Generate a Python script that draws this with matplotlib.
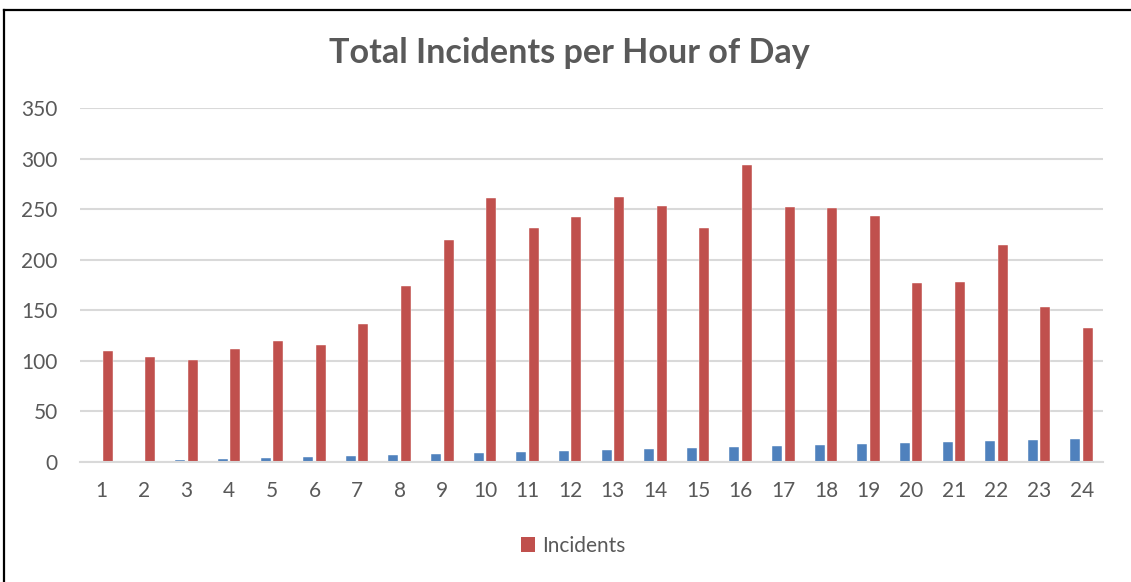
import matplotlib
matplotlib.use("Agg")
import matplotlib.pyplot as plt
from matplotlib.lines import Line2D
from matplotlib.patches import Patch

# Dados
horas = list(range(1, 25))
indice_hora = [0, 1, 2, 3, 4, 5, 6, 7, 8, 9, 10, 11,
               12, 13, 14, 15, 16, 17, 18, 19, 20, 21, 22, 23]
incidentes = [110, 104, 101, 112, 120, 116, 136, 174, 219, 261, 231, 242,
              262, 253, 231, 294, 252, 251, 243, 177, 178, 215, 153, 132]
y_ticks = [0, 50, 100, 150, 200, 250, 300, 350]

AZUL = "#4F81BD"
VERMELHO = "#C0504D"
CINZA_TEXTO = "#595959"
CINZA_GRADE = "#D9D9D9"

plt.rcParams.update({
    "font.family": ["Lato", "DejaVu Sans"],
    "font.size": 14,
})

fig = plt.figure(figsize=(11.31, 5.82), dpi=100)
ax = fig.add_axes([80 / 1131, 120 / 582, 1023 / 1131, 354 / 582])

largura = 0.235
deslocamento = 0.146
ax.bar([h - deslocamento for h in horas], indice_hora, width=largura,
       color=AZUL, edgecolor="white", linewidth=0.3, zorder=3)
ax.bar([h + deslocamento for h in horas], incidentes, width=largura,
       color=VERMELHO, edgecolor="white", linewidth=0.3, zorder=3)

ax.set_xlim(0.5, 24.5)
ax.set_ylim(0, 350)
ax.set_xticks(horas)
ax.set_xticklabels([str(h) for h in horas])
ax.set_yticks(y_ticks)

ax.grid(axis="y", color=CINZA_GRADE, linewidth=1.5, zorder=0)
for lado in ["top", "right", "left"]:
    ax.spines[lado].set_visible(False)
ax.spines["bottom"].set_color(CINZA_GRADE)
ax.spines["bottom"].set_linewidth(1.5)
ax.spines["bottom"].set_zorder(4)
ax.tick_params(axis="both", length=0, labelcolor=CINZA_TEXTO, labelsize=15)
ax.tick_params(axis="y", pad=16)
ax.tick_params(axis="x", pad=14)

fig.text(0.503, 1 - 53 / 582, "Total Incidents per Hour of Day",
         ha="center", va="center", fontsize=24.6, fontweight="bold",
         color=CINZA_TEXTO)

fig.legend(handles=[Patch(facecolor=VERMELHO, label="Incidents")],
           loc="center", bbox_to_anchor=(573 / 1131, 1 - 546 / 582),
           frameon=False, fontsize=15, labelcolor=CINZA_TEXTO,
           handlelength=0.7, handleheight=0.7, handletextpad=0.3)

# Moldura do gráfico (apenas topo e esquerda aparecem no recorte)
fig.add_artist(Line2D([3.5 / 1131, 3.5 / 1131], [0, 1 - 9.5 / 582],
                      color="black", linewidth=1.6))
fig.add_artist(Line2D([3.5 / 1131, 1], [1 - 9.5 / 582, 1 - 9.5 / 582],
                      color="black", linewidth=1.6))

fig.savefig("out.png", dpi=100, facecolor="white")
plt.close(fig)
